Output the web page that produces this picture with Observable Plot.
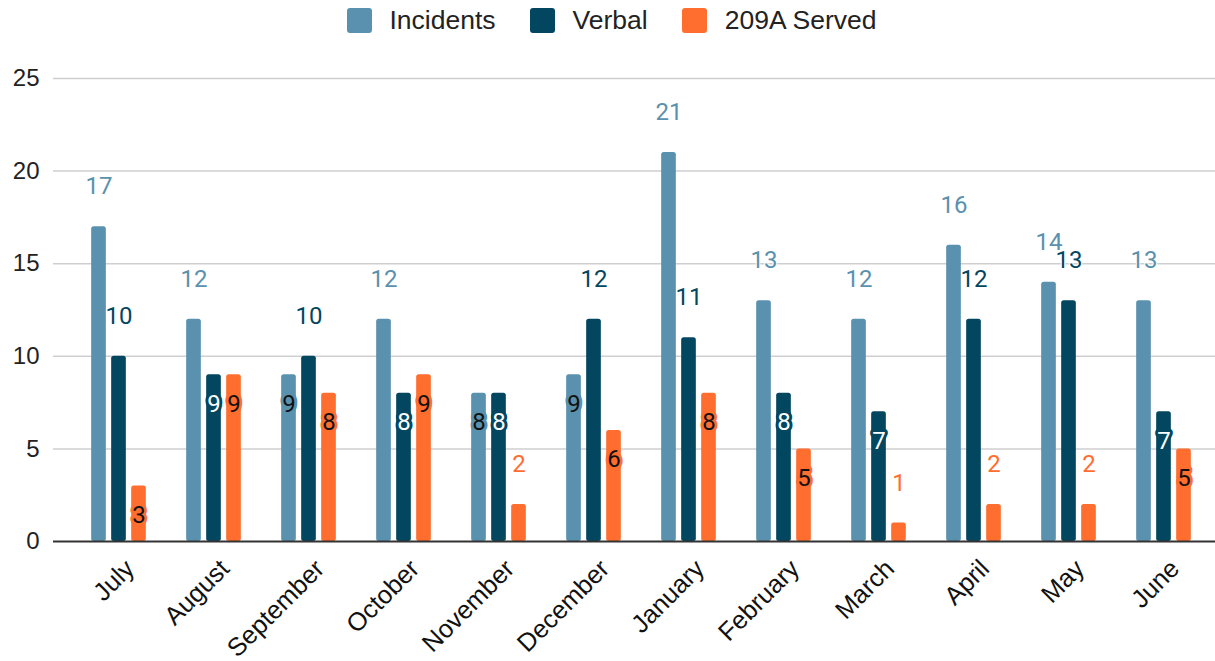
<!DOCTYPE html>
<html>
<head>
<meta charset="utf-8">
<script src="https://cdn.jsdelivr.net/npm/d3@7"></script>
<script src="https://cdn.jsdelivr.net/npm/@observablehq/plot@0.6"></script>
<style>
  html, body { margin: 0; padding: 0; background: #fff; }
  #legend { height: 40px; display: flex; justify-content: center; align-items: center;
    font-family: "Liberation Sans", Arial, sans-serif; font-size: 26.5px; color: #222; padding-left: 8px; box-sizing: border-box; }
  .item { display: flex; align-items: center; margin: 0 17px; }
  .sw { width: 25px; height: 25px; border-radius: 3px; margin-right: 18px; }
</style>
</head>
<body>
<div id="legend"></div>
<div id="chart"></div>
<script>
const months = ["July","August","September","October","November","December","January","February","March","April","May","June"];
const seriesNames = ["Incidents","Verbal","209A Served"];
const incidents = [17,12,9,12,8,9,21,13,12,16,14,13];
const verbal = [10,9,10,8,8,12,11,8,7,12,13,7];
const served = [3,9,8,9,2,6,8,5,1,2,2,5];
// 1 = label drawn inside the bar (as in the reference), 0 = above
const incidentsInside = [0,0,1,0,1,1,0,0,0,0,0,0];
const verbalInside = [0,1,0,1,1,0,0,1,1,0,0,1];
const servedInside = [1,1,1,1,0,1,1,1,0,0,0,1];
const yTicks = [0,5,10,15,20,25];

const colors = ["#5a91ae", "#03465f", "#ff6d2f"];
const insideText = ["#111", "#fff", "#111"];
const offsets = [-20, 0, 20];
const values = [incidents, verbal, served];
const insides = [incidentsInside, verbalInside, servedInside];

// legend
const legend = document.getElementById("legend");
seriesNames.forEach((s, i) => {
  const it = document.createElement("div"); it.className = "item";
  const sw = document.createElement("div"); sw.className = "sw"; sw.style.background = colors[i];
  const t = document.createElement("span"); t.textContent = s;
  it.appendChild(sw); it.appendChild(t); legend.appendChild(it);
});

const tables = values.map((vals, si) => months.map((m, i) => ({month: m, value: vals[i], inside: insides[si][i], series: seriesNames[si]})));

const step = (1215 - 53 - 18) / 12;
const barW = 15;
const inset = (step - barW) / 2;

const marks = [
  Plot.ruleY(yTicks.filter(t => t > 0), {stroke: "#cfcfcf", strokeWidth: 1.5}),
  Plot.axisY({ticks: yTicks, tickSize: 0, tickPadding: 14, fontSize: 24, label: null, fill: "#222", tickFormat: d => d}),
];
tables.forEach((tab, si) => {
  marks.push(Plot.barY(tab, {x: "month", y: "value", fill: colors[si], dx: offsets[si], insetLeft: inset, insetRight: inset, rx: 2.5}));
});
marks.push(Plot.ruleY([0], {stroke: "#333", strokeWidth: 2}));
tables.forEach((tab, si) => {
  marks.push(Plot.text(tab.filter(d => !d.inside), {x: "month", y: "value", text: d => String(d.value), dx: offsets[si], dy: -40,
    fill: colors[si], fontSize: 24, fontFamily: "Roboto", stroke: "white", strokeWidth: 2}));
  marks.push(Plot.text(tab.filter(d => d.inside), {x: "month", y: "value", text: d => String(d.value), dx: offsets[si], dy: 29,
    fill: insideText[si], fontSize: 24, fontFamily: "Roboto", stroke: colors[si], strokeWidth: 6}));
});
marks.push(Plot.text(months, {x: d => d, text: d => d, frameAnchor: "bottom", rotate: -45, textAnchor: "end", lineAnchor: "top",
  dx: 4, dy: 16, fontSize: 25.5, fill: "#111"}));

const chart = Plot.plot({
  width: 1215,
  height: 621,
  marginTop: 38,
  marginBottom: 120,
  marginLeft: 53,
  marginRight: 0,
  style: {fontFamily: "'Liberation Sans', Arial, sans-serif", background: "white"},
  x: {type: "band", domain: months, padding: 0, insetLeft: 16, insetRight: 2, axis: null},
  y: {domain: [0, 25], axis: null},
  marks
});
document.getElementById("chart").appendChild(chart);
</script>
</body>
</html>
